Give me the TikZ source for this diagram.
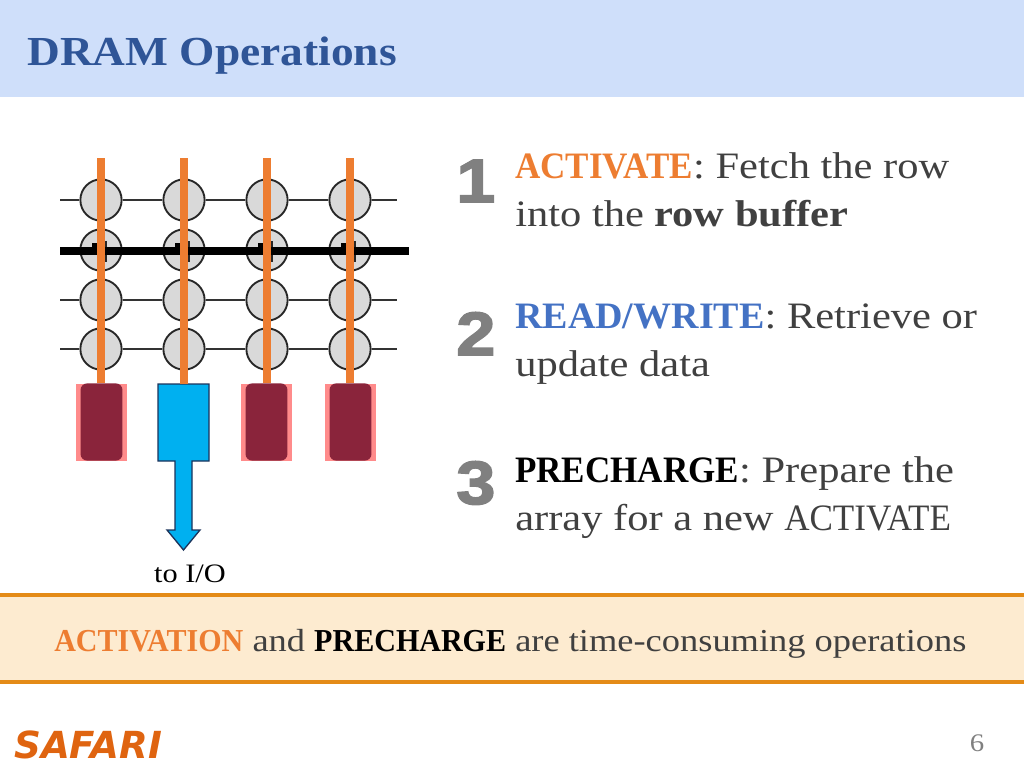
\documentclass[tikz,border=0pt]{standalone}
\usepackage{fontspec}
\setmainfont[FakeStretch=1.14]{Liberation Serif}
\newfontfamily\capfont[FakeStretch=0.94]{Liberation Serif}
\newfontfamily\rwfont[FakeStretch=1.02]{Liberation Serif}
\newfontfamily\titlefont[FakeStretch=1.1]{Liberation Serif}
\newfontfamily\numfont[FakeBold=2.5,FakeStretch=1.15]{Liberation Sans}
\newfontfamily\logofont{DejaVu Sans}
\definecolor{headblue}{HTML}{CFDFFA}
\definecolor{titleblue}{HTML}{2F5597}
\definecolor{lineorange}{HTML}{ED7D31}
\definecolor{readblue}{HTML}{4472C4}
\definecolor{bandfill}{HTML}{FDEBD0}
\definecolor{bandline}{HTML}{E48B17}
\definecolor{amppink}{HTML}{FF8B8B}
\definecolor{ampdark}{HTML}{8A243B}
\definecolor{ampblue}{HTML}{00B0F0}
\definecolor{celltext}{HTML}{404040}
\definecolor{safari}{HTML}{DF6410}
\tikzset{
	cell/.style={circle,draw=black!85,fill=black!15,line width=1.4pt,minimum size=31pt,inner sep=0pt},
	wordline/.style={draw=black!80,line width=2pt},
	bitline/.style={draw=lineorange,line width=6pt},
	bodytext/.style={anchor=base west,inner sep=0pt,text=celltext,font=\fontsize{28}{28}\selectfont},
	bignum/.style={anchor=base west,inner sep=0pt,text=black!50,font=\fontsize{46}{46}\selectfont\numfont\bfseries},
}
\begin{document}
\begin{tikzpicture}[x=0.0264cm,y=-0.0264cm]
	\useasboundingbox (0,0) rectangle (1024,768);
	\def\w{83}
	% header and bottom band
	\fill [headblue] (0,0) rectangle (1024,97);
	\node [anchor=base west,inner sep=0pt,text=titleblue,font=\fontsize{31}{31}\selectfont\titlefont\bfseries] (title) at (27,65) {DRAM Operations};
	\fill [bandfill] (0,595) rectangle (1024,682);
	\draw [bandline,line width=3pt] (0,595) -- (1024,595);
	\draw [bandline,line width=3pt] (0,682) -- (1024,682);

	% cells
	\foreach \c in {1,...,4} {
		\foreach \r/\y in {1/200,2/250,3/300,4/349} {
			\node [cell] (cell-\r-\c) at (18+\c*\w, \y) {};
		}
	}
	% word lines
	\foreach \r/\y in {1/200,3/300,4/349} {
		\coordinate (wl-\r-a) at (60,\y);
		\coordinate (wl-\r-b) at (397,\y);
		\path [wordline] (wl-\r-a) -- (cell-\r-1);
		\path [wordline] (cell-\r-1) -- (cell-\r-2);
		\path [wordline] (cell-\r-2) -- (cell-\r-3);
		\path [wordline] (cell-\r-3) -- (cell-\r-4);
		\path [wordline] (cell-\r-4) -- (wl-\r-b);
	}
	% open row
	\foreach \c in {1,...,4} {
		\fill (cell-2-\c.center) ++(-9,-7) rectangle ++(9,8);
		\draw [line width=1.2pt,black!85] (cell-2-\c.center) ++(5,-9) -- ++(0,21);
	}
	\coordinate (wl-2-a) at (60,251);
	\coordinate (wl-2-b) at (409,251);
	\draw [line width=6pt] (wl-2-a) -- (wl-2-b);

	% sense amplifiers
	\foreach \c/\x in {1/101,3/266,4/350} {
		\fill [amppink] (\x-25.5,384) rectangle (\x+25.5,461);
		\node [fill=ampdark,rounded corners=5pt,minimum width=31.5pt,minimum height=58pt,inner sep=0pt] (amp-\c) at (\x+0.5,422) {};
	}
	\node [minimum width=38pt,minimum height=58pt,inner sep=0pt] (amp-2) at (183.5,422.5) {};
	\draw [fill=ampblue,draw=titleblue!60!black,line width=1pt] (158,384) -- (209,384) -- (209,461) -- (192,461) -- (192,530) -- (200,530) -- (183.5,550) -- (167,530) -- (175,530) -- (175,461) -- (158,461) -- cycle;

	% bit lines
	\foreach \c/\x in {1/101,2/184,3/267,4/350} {
		\coordinate (bl-\c) at (\x,158);
		\draw [bitline] (bl-\c) -- (amp-\c.north -| bl-\c);
	}
	\node [inner sep=0pt,font=\fontsize{20}{20}\selectfont] (toio) at (190,574) {to I/O};

	% steps
	\node [bignum] (num-1) at (456,202) {1};
	\node [bignum] (num-2) at (456,355) {2};
	\node [bignum] (num-3) at (456,504) {3};
	\node [bodytext] (act-a) at (515,178) {\textcolor{lineorange}{\capfont\bfseries ACTIVATE}: Fetch the row};
	\node [bodytext] (act-b) at (515,226) {into the \textbf{row buffer}};
	\node [bodytext] (rw-a) at (515,328) {\textcolor{readblue}{\rwfont\bfseries READ/WRITE}: Retrieve or};
	\node [bodytext] (rw-b) at (515,376) {update data};
	\node [bodytext] (pre-a) at (515,482) {\textcolor{black}{\capfont\bfseries PRECHARGE}: Prepare the};
	\node [bodytext] (pre-b) at (515,530) {array for a new {\capfont ACTIVATE}};

	% footer
	\node [bodytext,font=\fontsize{24}{24}\selectfont] (band) at (54,651) {\textcolor{lineorange}{\capfont\bfseries ACTIVATION} and \textcolor{black}{\capfont\bfseries PRECHARGE} are time-consuming operations};
	\node [anchor=base west,inner sep=0pt,text=safari,font=\fontsize{28}{28}\selectfont\logofont\bfseries\itshape] (logo) at (14,758) {SAFARI};
	\node [anchor=base,inner sep=0pt,text=black!50,font=\fontsize{19}{19}\selectfont] (page) at (977,751) {6};
\end{tikzpicture}
\end{document}
